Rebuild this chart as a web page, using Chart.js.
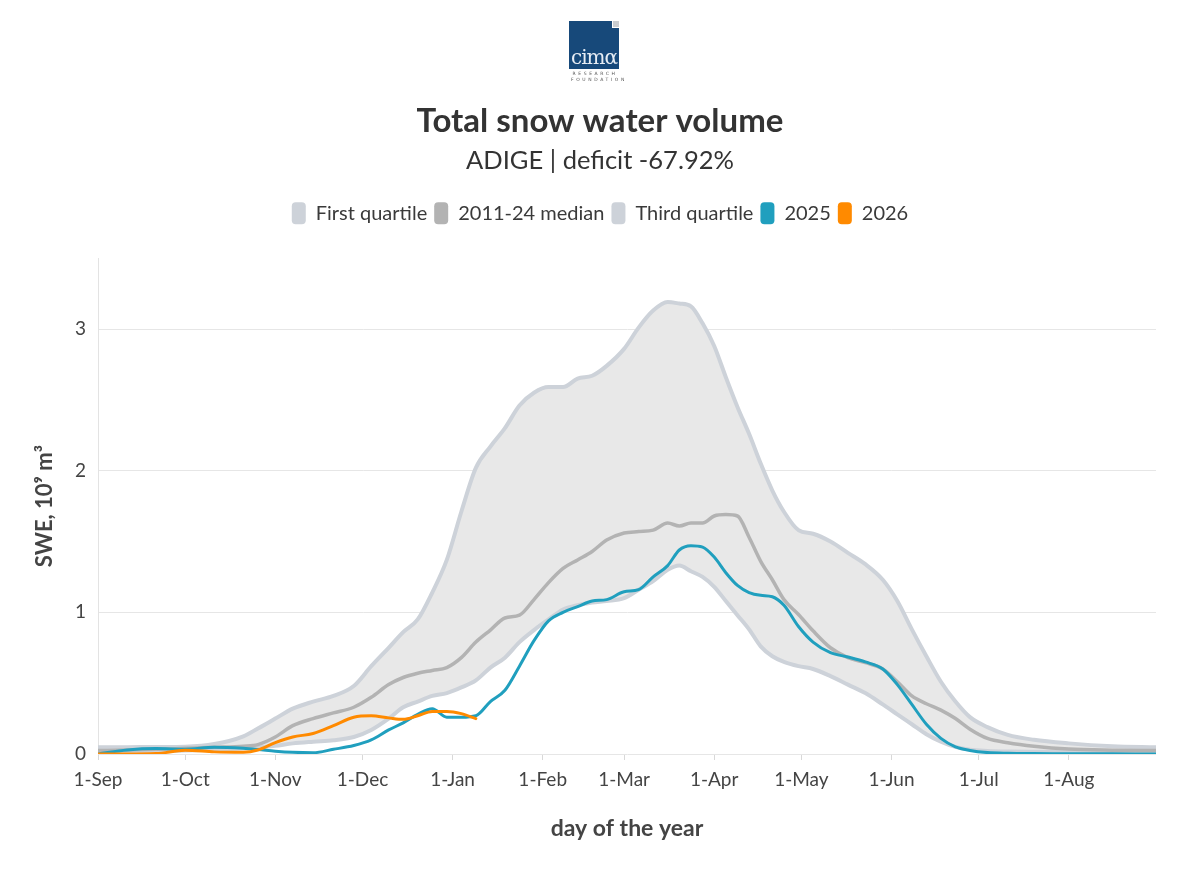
<!DOCTYPE html>
<html>
<head>
<meta charset="utf-8">
<title>Total snow water volume</title>
<script src="https://cdn.jsdelivr.net/npm/chart.js@4.4.1/dist/chart.umd.min.js"></script>
<style>
    body { margin: 0; background: #fff; }
    #wrap { position: relative; width: 1200px; height: 869px; }
    #logo { position: absolute; left: 569px; top: 21px; width: 50px; }
    #logo .sq { position: relative; width: 50px; height: 48px; background: #17497a; overflow: hidden; }
    #logo .sq .corner { position: absolute; right: 0; top: 0; width: 6px; height: 6px; background: #c9ccd0; border-left: 1px solid #fff; border-bottom: 1px solid #fff; }
    #logo .sq .cima { position: absolute; left: 0; right: 0; bottom: 2px; text-align: center; color: #e8eef5; font-family: "DejaVu Serif", serif; font-size: 20px; letter-spacing: -1px; line-height: 20px; }
    #logo .rf { font-family: "DejaVu Sans", sans-serif; font-size: 4.5px; color: #555; letter-spacing: 2.6px; text-align: center; line-height: 6px; margin-left: 2px; }
</style>
</head>
<body>
<div id="wrap">
    <canvas id="swe-chart"></canvas>
    <div id="logo">
        <div class="sq"><span class="cima">cimα</span><span class="corner"></span></div>
        <div class="rf" style="margin-top:2px">RESEARCH</div>
        <div class="rf">FOUNDATION</div>
    </div>
</div>
<script>
// day of the hydrological year (0 = 1 September)
const days = [0, 10, 20, 30, 40, 50, 55, 61, 67, 74, 81, 88, 94, 100, 105, 110, 115, 120, 125, 130,
              135, 140, 145, 150, 155, 160, 165, 170, 175, 181, 186, 191, 196, 200, 204, 208, 212, 216, 220, 224,
              228, 232, 236, 241, 246, 252, 258, 264, 270, 275, 280, 285, 290, 295, 300, 306, 313, 322, 334, 349, 364];

// SWE, 10^9 m3
const firstQuartile = [0.015, 0.018, 0.02, 0.025, 0.03, 0.038, 0.045, 0.058, 0.075, 0.087, 0.097, 0.12, 0.17, 0.25, 0.33, 0.37, 0.41, 0.43, 0.47, 0.52,
                       0.61, 0.68, 0.79, 0.875, 0.95, 1.02, 1.05, 1.07, 1.08, 1.1, 1.16, 1.22, 1.3, 1.33, 1.29, 1.25, 1.18, 1.08, 0.98, 0.88,
                       0.76, 0.69, 0.65, 0.62, 0.6, 0.55, 0.49, 0.43, 0.35, 0.28, 0.21, 0.14, 0.087, 0.05, 0.03, 0.022, 0.018, 0.016, 0.015, 0.015, 0.015];

const median = [0.024, 0.028, 0.033, 0.04, 0.047, 0.055, 0.066, 0.12, 0.2, 0.25, 0.29, 0.33, 0.4, 0.49, 0.54, 0.57, 0.59, 0.61, 0.68, 0.79,
                0.875, 0.96, 0.98, 1.09, 1.21, 1.31, 1.37, 1.43, 1.51, 1.56, 1.57, 1.58, 1.63, 1.61, 1.63, 1.63, 1.68, 1.69, 1.68, 1.53,
                1.36, 1.23, 1.09, 0.985, 0.87, 0.75, 0.68, 0.645, 0.6, 0.51, 0.41, 0.355, 0.31, 0.25, 0.175, 0.11, 0.08, 0.055, 0.035, 0.027, 0.024];

const thirdQuartile = [0.047, 0.048, 0.05, 0.052, 0.07, 0.125, 0.18, 0.25, 0.32, 0.37, 0.41, 0.48, 0.62, 0.75, 0.86, 0.95, 1.14, 1.37, 1.71, 2.02,
                       2.17, 2.3, 2.46, 2.55, 2.59, 2.59, 2.65, 2.67, 2.74, 2.86, 3.01, 3.13, 3.19, 3.18, 3.16, 3.04, 2.88, 2.66, 2.45, 2.26,
                       2.05, 1.86, 1.71, 1.58, 1.555, 1.5, 1.42, 1.34, 1.23, 1.08, 0.88, 0.69, 0.51, 0.37, 0.26, 0.19, 0.135, 0.1, 0.075, 0.055, 0.047];

const season2025 = [0, 0.028, 0.038, 0.034, 0.047, 0.04, 0.032, 0.02, 0.012, 0.009, 0.033, 0.06, 0.1, 0.17, 0.22, 0.28, 0.32, 0.26, 0.26, 0.27,
                    0.37, 0.45, 0.62, 0.8, 0.94, 1.0, 1.04, 1.08, 1.09, 1.145, 1.16, 1.25, 1.33, 1.44, 1.47, 1.46, 1.39, 1.28, 1.19, 1.14,
                    1.12, 1.11, 1.05, 0.9, 0.79, 0.715, 0.685, 0.65, 0.6, 0.49, 0.35, 0.21, 0.11, 0.05, 0.025, 0.01, 0.005, 0.003, 0.002, 0.001, 0];

// current season, up to ~10 January
const season2026 = [0, 0, 0.003, 0.027, 0.015, 0.012, 0.028, 0.08, 0.12, 0.145, 0.2, 0.26, 0.27, 0.255, 0.245, 0.27, 0.3, 0.3, 0.285, 0.25];

const monthDays = [0, 30, 61, 91, 122, 153, 181, 212, 242, 273, 303, 334];
const monthLabels = ['1-Sep', '1-Oct', '1-Nov', '1-Dec', '1-Jan', '1-Feb', '1-Mar', '1-Apr', '1-May', '1-Jun', '1-Jul', '1-Aug'];
const yTicks = [0, 1, 2, 3];

const FONT = 'Lato, "Open Sans", sans-serif';

function toPoints(values) {
    return values.map((v, i) => ({ x: days[i], y: v }));
}

// leave room between legend and plot
const legendGap = {
    id: 'legendGap',
    afterInit(chart) {
        const fit = chart.legend.fit;
        chart.legend.fit = function () {
            fit.call(this);
            this.height += 24;
        };
    }
};

const ctx = document.getElementById('swe-chart');

const data = {
    datasets: [{
        label: 'First quartile',
        data: toPoints(firstQuartile),
        borderColor: '#cdd2d9',
        backgroundColor: '#cdd2d9',
        borderWidth: 4,
        fill: false,
        order: 5
    }, {
        label: '2011-24 median',
        data: toPoints(median),
        borderColor: '#b3b3b3',
        backgroundColor: '#b3b3b3',
        borderWidth: 3.5,
        fill: false,
        order: 4
    }, {
        label: 'Third quartile',
        data: toPoints(thirdQuartile),
        borderColor: '#cdd2d9',
        backgroundColor: '#e8e8e8',
        borderWidth: 4,
        fill: 0,
        order: 5
    }, {
        label: '2025',
        data: toPoints(season2025),
        borderColor: '#209fbe',
        backgroundColor: '#209fbe',
        borderWidth: 3,
        fill: false,
        order: 2
    }, {
        label: '2026',
        data: toPoints(season2026),
        borderColor: '#ff8a00',
        backgroundColor: '#ff8a00',
        borderWidth: 3,
        fill: false,
        order: 1
    }]
};

const options = {
    responsive: true,
    maintainAspectRatio: false,
    animation: false,
    layout: { padding: { top: 98, left: 0, right: 0, bottom: 0 } },
    elements: {
        point: { radius: 0 },
        line: { cubicInterpolationMode: 'monotone', borderCapStyle: 'round', borderJoinStyle: 'round' }
    },
    scales: {
        x: {
            type: 'linear',
            min: 0,
            max: 364,
            afterBuildTicks: scale => { scale.ticks = monthDays.map(v => ({ value: v })); },
            afterFit: scale => { scale.height = 115; scale.paddingRight = 44; },
            ticks: {
                autoSkip: false,
                maxRotation: 0,
                padding: 8,
                color: '#444',
                font: { family: FONT, size: 19 },
                callback: (value, index) => monthLabels[index]
            },
            grid: { drawOnChartArea: false, drawTicks: true, tickLength: 6, color: '#d8d8d8' },
            border: { display: false },
            title: {
                display: true,
                text: 'day of the year',
                color: '#444',
                font: { family: FONT, size: 23, weight: 'bold' },
                padding: { top: 0, bottom: 27 }
            }
        },
        y: {
            min: 0,
            max: 3.5,
            afterBuildTicks: scale => { scale.ticks = yTicks.map(v => ({ value: v })); },
            afterFit: scale => { scale.width = 98; },
            ticks: {
                padding: 12,
                color: '#444',
                font: { family: FONT, size: 19 }
            },
            grid: { drawTicks: false, color: '#e6e6e6' },
            border: { display: true, color: '#e3e3e3' },
            title: {
                display: true,
                text: 'SWE, 10⁹ m³',
                color: '#444',
                font: { family: FONT, size: 22, weight: 'bold' },
                padding: { top: 32, bottom: 0 }
            }
        }
    },
    plugins: {
        title: {
            display: true,
            text: 'Total snow water volume',
            color: '#333',
            font: { family: FONT, size: 33, weight: 'bold' },
            padding: { top: 4, bottom: 4 }
        },
        subtitle: {
            display: true,
            text: 'ADIGE | deficit -67.92%',
            color: '#333',
            font: { family: FONT, size: 25.5, weight: 'normal' },
            padding: { top: 0, bottom: 19 }
        },
        legend: {
            position: 'top',
            labels: {
                color: '#3a3a3a',
                font: { family: FONT, size: 20 },
                boxWidth: 14,
                boxHeight: 22,
                padding: 7,
                useBorderRadius: true,
                borderRadius: 4,
                sort: (a, b) => a.datasetIndex - b.datasetIndex,
                generateLabels: chart => {
                    const items = Chart.defaults.plugins.legend.labels.generateLabels(chart);
                    items.forEach(item => {
                        const ds = chart.data.datasets[item.datasetIndex];
                        item.fillStyle = ds.borderColor;
                        item.strokeStyle = ds.borderColor;
                        item.lineWidth = 0;
                    });
                    return items;
                }
            }
        },
        tooltip: { enabled: false }
    }
};

const sweChart = new Chart(ctx, {
    type: 'line',
    data: data,
    options: options,
    plugins: [legendGap]
});
</script>
</body>
</html>
